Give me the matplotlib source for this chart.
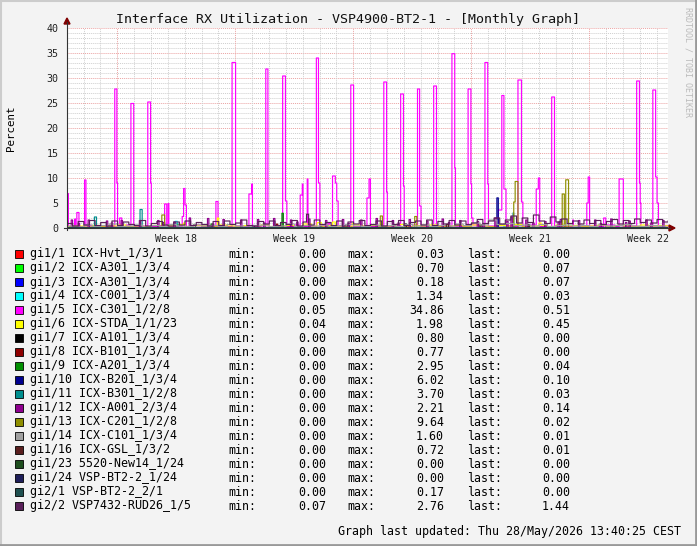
# Interface RX utilization, monthly RRD-style graph
import numpy as np
import matplotlib.pyplot as plt
from matplotlib.patches import Rectangle, Polygon

plt.rcParams['font.family'] = 'DejaVu Sans Mono'

# Time axis in days since graph start
span = 35.65
first_monday = 2.98
weeks = [18, 19, 20, 21, 22]

# Legend data
names = ["gi1/1 ICX-Hvt_1/3/1", "gi1/2 ICX-A301_1/3/4", "gi1/3 ICX-A301_1/3/4",
         "gi1/4 ICX-C001_1/3/4", "gi1/5 ICX-C301_1/2/8", "gi1/6 ICX-STDA_1/1/23",
         "gi1/7 ICX-A101_1/3/4", "gi1/8 ICX-B101_1/3/4", "gi1/9 ICX-A201_1/3/4",
         "gi1/10 ICX-B201_1/3/4", "gi1/11 ICX-B301_1/2/8", "gi1/12 ICX-A001_2/3/4",
         "gi1/13 ICX-C201_1/2/8", "gi1/14 ICX-C101_1/3/4", "gi1/16 ICX-GSL_1/3/2",
         "gi1/23 5520-New14_1/24", "gi1/24 VSP-BT2-2_1/24", "gi2/1 VSP-BT2-2_2/1",
         "gi2/2 VSP7432-RUD26_1/5"]
colors = ["#FF0000", "#00FF00", "#0000FF", "#00FFFF", "#FF00FF", "#FFFF00",
          "#000000", "#8F0000", "#008F00", "#00008F", "#008F8F", "#8F008F",
          "#8F8F00", "#A0A0A0", "#5A1F1F", "#1F4F1F", "#1F1F5A", "#1F5050",
          "#5A205A"]
mins = [0.00, 0.00, 0.00, 0.00, 0.05, 0.04, 0.00, 0.00, 0.00, 0.00,
        0.00, 0.00, 0.00, 0.00, 0.00, 0.00, 0.00, 0.00, 0.07]
maxs = [0.03, 0.70, 0.18, 1.34, 34.86, 1.98, 0.80, 0.77, 2.95, 6.02,
        3.70, 2.21, 9.64, 1.60, 0.72, 0.00, 0.00, 0.17, 2.76]
lasts = [0.00, 0.07, 0.07, 0.03, 0.51, 0.45, 0.00, 0.00, 0.04, 0.10,
         0.03, 0.14, 0.02, 0.01, 0.01, 0.00, 0.00, 0.00, 1.44]

# Series: baseline values (every 12 h or 8 h) plus (start_day, end_day, value) segments
magenta_base = [0.3, 0.2, 0.5, 0.3, 0.2, 0.4, 0.3, 0.6, 0.2, 0.4, 0.3, 0.5,
                0.2, 0.4, 0.3, 0.6, 0.3, 0.2, 0.5, 0.3, 0.4, 0.2, 0.3, 0.5,
                0.2, 0.4, 0.3, 0.6, 0.3, 0.2, 0.4, 0.3, 0.5, 0.2, 0.3, 0.4,
                0.3, 0.5, 0.2, 0.4, 0.3, 0.6, 0.2, 0.3, 0.5, 0.3, 0.4, 0.2,
                0.6, 0.3, 0.4, 0.2, 0.5, 0.3, 0.4, 0.6, 0.3, 0.2, 0.4, 0.3,
                0.5, 0.2, 0.4, 0.3, 0.6, 0.3, 0.2, 0.4, 0.3, 0.5, 0.4, 0.51]
magenta_segs = [
    (0.00, 0.06, 6.9), (0.42, 0.50, 1.8), (0.58, 0.67, 3.1), (1.04, 1.12, 9.6),
    (2.83, 2.92, 27.8), (2.92, 3.00, 9.0), (3.12, 3.21, 2.0),
    (3.79, 3.92, 24.9), (4.79, 4.92, 25.2), (4.92, 5.00, 9.0),
    (5.79, 5.88, 4.8), (5.96, 6.04, 4.9),
    (6.83, 6.88, 2.3), (6.88, 7.00, 7.9), (7.00, 7.08, 4.6),
    (8.83, 8.92, 5.3), (9.79, 9.96, 33.1),
    (10.79, 10.92, 6.8), (10.92, 11.00, 8.8), (11.79, 11.88, 31.8),
    (12.79, 12.92, 30.4), (12.92, 13.04, 5.4),
    (13.83, 13.92, 6.6), (13.92, 14.00, 8.8), (14.21, 14.29, 9.8),
    (14.79, 14.88, 34.0), (14.88, 15.00, 9.0), (15.50, 15.58, 1.0),
    (15.75, 15.88, 10.4), (15.88, 15.96, 9.0), (15.96, 16.08, 5.4),
    (16.83, 16.96, 28.6), (17.79, 17.88, 6.0), (17.88, 18.00, 9.8),
    (18.79, 18.92, 29.2), (18.92, 19.00, 7.2),
    (19.79, 19.92, 26.8), (19.92, 20.00, 8.4),
    (20.79, 20.88, 27.8), (20.88, 21.00, 4.4), (21.75, 21.88, 28.4),
    (22.83, 22.96, 34.86), (22.96, 23.04, 12.0),
    (23.79, 23.92, 27.8), (23.92, 24.00, 8.8), (24.00, 24.08, 2.0),
    (24.79, 24.92, 33.1), (24.92, 25.00, 8.8),
    (25.58, 25.79, 3.6), (25.79, 25.88, 26.5), (25.88, 26.04, 7.8),
    (26.75, 26.92, 29.6), (26.92, 27.04, 5.2),
    (27.83, 27.92, 7.8), (27.92, 28.04, 10.0), (28.75, 28.88, 26.2),
    (29.96, 30.04, 1.6), (30.83, 30.88, 5.0), (30.88, 31.00, 10.2),
    (31.83, 31.92, 2.0), (32.75, 32.96, 9.8),
    (33.79, 33.92, 29.4), (33.92, 34.00, 9.0), (34.00, 34.04, 5.0),
    (34.75, 34.88, 27.6), (34.88, 34.96, 10.2), (34.96, 35.08, 5.0),
]
yellow_base = [0.3, 0.4, 0.2, 0.5, 0.3, 0.4, 0.6, 0.3, 0.4, 0.3, 0.5, 0.2,
               0.4, 0.7, 0.3, 0.5, 0.4, 0.3, 0.6, 0.4, 0.3, 0.5, 0.4, 0.6,
               0.3, 0.4, 0.5, 0.3, 0.8, 0.4, 0.3, 0.5, 0.4, 0.3, 0.6, 0.4,
               0.5, 0.3, 0.4, 0.7, 0.3, 0.5, 0.4, 0.6, 0.3, 0.4, 0.5, 0.3,
               0.6, 0.4, 0.3, 0.5, 0.4, 0.7, 0.3, 0.4, 0.5, 0.3, 0.6, 0.4,
               0.5, 0.3, 0.4, 0.6, 0.3, 0.5, 0.4, 0.3, 0.6, 0.4, 0.5, 0.45]
yellow_segs = [(6.90, 7.00, 1.0), (8.88, 8.96, 1.98), (14.83, 15.08, 1.1),
               (15.75, 15.88, 1.2), (16.90, 17.00, 0.9), (28.00, 28.10, 1.0)]
gray_base = [0.4, 0.2, 0.6, 0.3, 0.5, 0.8, 0.3, 0.4, 0.6, 0.2, 0.5, 0.3,
             0.7, 0.4, 0.3, 0.6, 0.4, 0.5, 0.3, 0.7, 0.4, 0.2, 0.5, 0.6,
             0.3, 0.4, 0.8, 0.3, 0.5, 0.4, 0.6, 0.3, 0.5, 0.7, 0.4, 0.3,
             0.6, 0.4, 0.5, 0.3, 0.7, 0.4, 0.6, 0.3, 0.5, 0.4, 0.8, 0.5,
             1.0, 0.6, 1.6, 0.7, 0.9, 0.5, 0.6, 0.4, 0.7, 0.3, 0.5, 0.6,
             0.4, 0.5, 0.3, 0.6, 0.4, 0.5, 0.7, 0.4, 0.3, 0.5, 0.4, 0.01]
dpurple_base = [0.9, 0.4, 1.3, 0.6, 1.5, 0.5, 1.1, 0.4, 1.4, 0.5, 1.2, 0.7,
                0.5, 1.5, 0.4, 0.9, 1.3, 0.6, 0.4, 1.2, 0.6, 1.4, 0.5, 1.1,
                0.7, 0.4, 1.3, 0.5, 1.4, 0.7, 1.0, 1.6, 0.5, 0.4, 1.3, 0.8,
                1.4, 0.5, 1.1, 0.7, 1.5, 0.4, 1.2, 0.6, 1.6, 0.7, 1.1, 0.5,
                1.4, 0.4, 1.2, 0.8, 1.5, 0.5, 0.7, 1.4, 0.4, 1.3, 0.7, 1.5,
                0.5, 1.1, 1.4, 0.6, 1.6, 0.5, 1.3, 0.8, 1.5, 0.6, 1.4, 0.7,
                1.0, 1.7, 0.9, 1.4, 2.0, 0.8, 1.6, 2.4, 1.0, 2.0, 1.1, 2.6,
                1.4, 0.9, 2.2, 1.2, 1.8, 0.9, 1.4, 0.8, 1.6, 0.9, 1.5, 0.7,
                1.3, 1.7, 0.8, 1.5, 0.9, 1.8, 1.1, 1.6, 1.0, 1.7, 1.2, 1.44]
dpurple_segs = [(14.20, 14.30, 2.76)]
purple_spike_days = [0.24, 1.25, 2.31, 3.20, 4.27, 5.34, 6.30, 7.24, 8.30, 9.25,
                     10.26, 11.27, 12.22, 13.23, 14.30, 15.30, 16.30, 17.40, 18.30,
                     19.28, 20.26, 21.30, 22.25, 23.27, 24.30, 25.35, 26.30, 27.20,
                     28.30, 29.25, 30.30, 31.27, 32.25, 33.30, 34.30, 35.30]
purple_spike_vals = [1.6, 1.6, 1.4, 1.5, 1.5, 1.5, 1.2, 2.0, 1.9, 1.7, 1.6, 1.7,
                     1.9, 1.6, 1.8, 1.5, 1.7, 1.6, 1.9, 1.5, 1.7, 1.4, 1.8, 1.5,
                     1.3, 2.0, 2.2, 1.6, 1.3, 1.7, 1.5, 1.6, 1.8, 1.4, 1.6, 1.5]
purple_small_days = [0.65, 2.60, 5.70, 8.60, 11.65, 13.60, 16.65, 19.60, 22.60,
                     24.65, 26.05, 27.60, 29.10, 31.60, 33.10, 34.60]
purple_small_vals = [0.9, 1.0, 1.1, 0.8, 1.0, 1.2, 0.9, 1.0, 1.1, 0.9, 1.3,
                     1.0, 1.2, 0.9, 1.1, 1.0]
teal_segs = [(1.60, 1.75, 2.2), (4.33, 4.42, 3.7), (6.45, 6.55, 0.8), (26.42, 26.50, 3.0)]
green9_segs = [(8.54, 8.60, 0.8), (12.71, 12.83, 2.95), (18.60, 18.70, 0.6)]
navy_segs = [(11.00, 11.10, 0.5), (25.46, 25.58, 6.02)]
olive_segs = [(5.62, 5.79, 2.6), (18.55, 18.67, 2.4), (20.62, 20.74, 2.3),
              (26.46, 26.58, 5.2), (26.58, 26.71, 9.3), (29.37, 29.46, 6.8),
              (29.58, 29.75, 9.64)]
cyan_segs = [(4.30, 4.40, 0.6), (6.40, 6.52, 1.34), (25.90, 26.00, 0.5)]
black_segs = [(20.00, 20.10, 0.8), (24.50, 24.60, 0.6), (27.30, 27.40, 0.7)]
dred_segs = [(12.40, 12.50, 0.77)]
green2_segs = [(7.50, 7.60, 0.7)]
blue_segs = [(9.00, 9.10, 0.18)]
red_segs = [(3.00, 3.10, 0.03)]
brown_segs = [(22.50, 22.60, 0.72)]
dteal_segs = [(15.00, 15.10, 0.17)]

dt = 1 / 24
t = np.arange(0, span + dt, dt)


def build(base, base_step, segs):
    if np.isscalar(base):
        y = np.full(len(t), float(base))
    else:
        y = np.repeat(np.asarray(base, float), int(round(base_step / dt)))
        if len(y) < len(t):
            y = np.concatenate([y, np.full(len(t) - len(y), y[-1])])
        y = y[:len(t)].copy()
    for t0, t1, v in segs:
        y[(t >= t0 - 1e-6) & (t < t1 - 1e-6)] = v
    return y


purple_segs = [(d, d + 0.08, v) for d, v in zip(purple_spike_days, purple_spike_vals)]
purple_segs += [(d, d + 0.08, v) for d, v in zip(purple_small_days, purple_small_vals)]
series = [
    build(0.0, 0, red_segs),
    build(0.02, 0, green2_segs),
    build(0.02, 0, blue_segs),
    build(0.02, 0, cyan_segs),
    build(magenta_base, 0.5, magenta_segs),
    build(yellow_base, 0.5, yellow_segs),
    build(0.02, 0, black_segs),
    build(0.0, 0, dred_segs),
    build(0.02, 0, green9_segs),
    build(0.05, 0, navy_segs),
    build(0.05, 0, teal_segs),
    build(0.15, 0, purple_segs),
    build(0.02, 0, olive_segs),
    build(gray_base, 0.5, []),
    build(0.05, 0, brown_segs),
    build(0.0, 0, []),
    build(0.0, 0, []),
    build(0.0, 0, dteal_segs),
    build(dpurple_base, 1 / 3, dpurple_segs),
]

# Figure in pixel units
W, H = 697, 546
fig = plt.figure(figsize=(W / 100, H / 100), dpi=100, facecolor="#F3F3F3")


def fx(x):
    return x / W


def fy(y):
    return 1 - y / H


left, right, top, bottom = 67, 668, 28, 228
ax = fig.add_axes([fx(left), fy(bottom), (right - left) / W, (bottom - top) / H])
ax.set_facecolor("white")
ax.set_xlim(0, span)
ax.set_ylim(0, 40)

# Grid
for v in range(0, 41):
    if v % 5 == 0:
        ax.axhline(v, color="#EBA3A3", lw=0.7, ls=(0, (1, 1)), zorder=0)
    else:
        ax.axhline(v, color="#CFCFCF", lw=0.7, ls=(0, (1, 1)), zorder=0)
day = first_monday - 2
while day < span:
    major = abs((day - first_monday) / 7 - round((day - first_monday) / 7)) < 1e-6
    ax.axvline(day, color="#EBA3A3" if major else "#CFCFCF", lw=0.7, ls=(0, (1, 1)), zorder=0)
    day += 1

for y, c in zip(series, colors):
    ax.plot(t, y, drawstyle="steps-post", color=c, lw=0.85, zorder=2)

ax.set_yticks(range(0, 41, 5))
ax.set_xticks([first_monday + 7 * k + 3.5 for k in range(len(weeks))])
ax.set_xticklabels([f"Week {w}" for w in weeks])
ax.tick_params(length=0, labelsize=7.2, colors="#222222", pad=4)
ax.tick_params(axis="y", pad=6)
for s in ax.spines.values():
    s.set_visible(False)

# Axes lines and arrows
fig.add_artist(plt.Line2D([fx(left), fx(left)], [fy(bottom + 2), fy(22)], color="#333333", lw=0.8))
fig.add_artist(plt.Line2D([fx(left - 3), fx(670)], [fy(bottom), fy(bottom)], color="#333333", lw=0.8))
fig.add_artist(Polygon([(fx(left - 3), fy(24)), (fx(left + 3), fy(24)), (fx(left), fy(18))],
                       closed=True, color="#7F0000", transform=fig.transFigure))
fig.add_artist(Polygon([(fx(669), fy(bottom - 3)), (fx(669), fy(bottom + 3)), (fx(675), fy(bottom))],
                       closed=True, color="#7F0000", transform=fig.transFigure))

# Texts
fig.text(fx(348), fy(19), "Interface RX Utilization - VSP4900-BT2-1 - [Monthly Graph]",
         ha="center", va="center", fontsize=9.6, color="#111111")
fig.text(fx(11), fy(128), "Percent", rotation=90, ha="center", va="center", fontsize=7.8)
fig.text(fx(688), fy(62), "RRDTOOL / TOBI OETIKER", rotation=270, ha="center", va="center",
         fontsize=6.0, color="#BBBBBB")

# Legend
for i, name in enumerate(names):
    yy = 254 + 14 * i
    fig.add_artist(Rectangle((fx(15), fy(yy + 4)), 8 / W, 8 / H, facecolor=colors[i],
                             edgecolor="black", lw=0.6, transform=fig.transFigure))
    fig.text(fx(30), fy(yy), name, ha="left", va="center", fontsize=8.4)
    fig.text(fx(228), fy(yy), "min:", ha="left", va="center", fontsize=8.4)
    fig.text(fx(326), fy(yy), f"{mins[i]:.2f}", ha="right", va="center", fontsize=8.4)
    fig.text(fx(347), fy(yy), "max:", ha="left", va="center", fontsize=8.4)
    fig.text(fx(444), fy(yy), f"{maxs[i]:.2f}", ha="right", va="center", fontsize=8.4)
    fig.text(fx(467), fy(yy), "last:", ha="left", va="center", fontsize=8.4)
    fig.text(fx(570), fy(yy), f"{lasts[i]:.2f}", ha="right", va="center", fontsize=8.4)

fig.text(fx(681), fy(532), "Graph last updated: Thu 28/May/2026 13:40:25 CEST",
         ha="right", va="center", fontsize=8.4)

# Image frame
fig.add_artist(plt.Line2D([0, 1], [fy(0.5), fy(0.5)], color="#CCCCCC", lw=1.5))
fig.add_artist(plt.Line2D([fx(0.5), fx(0.5)], [0, 1], color="#CCCCCC", lw=1.5))
fig.add_artist(plt.Line2D([0, 1], [fy(545), fy(545)], color="#999999", lw=2))
fig.add_artist(plt.Line2D([fx(696), fx(696)], [0, 1], color="#999999", lw=2))

fig.savefig("out.png", dpi=100, facecolor=fig.get_facecolor())
